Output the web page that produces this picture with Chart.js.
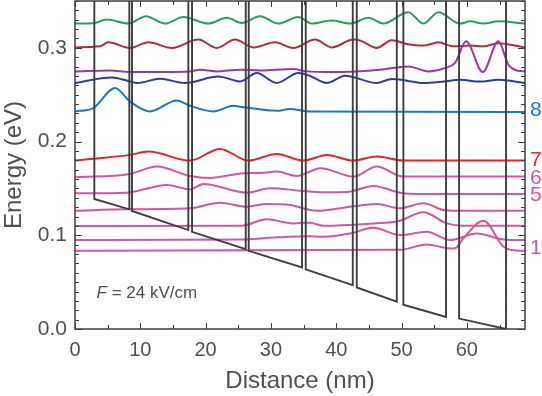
<!DOCTYPE html>
<html>
<head>
<meta charset="utf-8">
<script src="https://cdn.jsdelivr.net/npm/chart.js@4.4.0/dist/chart.umd.min.js"></script>
<style>
  html, body { margin: 0; padding: 0; background: #fff; }
  #chart { display: block; }
</style>
</head>
<body>
<canvas id="chart" width="542" height="396"></canvas>
<script>
// Conduction band: edges of each well (nm) and band bottom at those edges (eV)
const bandX = [2.96, 8.32, 8.73, 17.35, 17.92, 26.14, 26.6, 34.76, 35.33, 42.53, 43.14, 49.27, 50.28, 56.81, 58.81, 66.0];
const bandE = [0.1387, 0.1277, 0.1259, 0.1056, 0.1037, 0.0852, 0.0834, 0.0657, 0.0636, 0.0467, 0.0443, 0.0293, 0.0259, 0.0128, 0.0111, 0.0];
const barrierTop = 0.40; // barriers run off the top of the plot

// Wavefunctions |psi|^2 drawn on their energy levels, [nm, eV]
const state12 = [[0,.3259],[2.8,.3262],[4.85,.3302],[8.16,.3259],[10.87,.3337],[13.78,.3259],[16.58,.333],[20.41,.3259],[23.23,.332],[25.53,.3266],[28.33,.3337],[31.13,.3259],[34.2,.333],[36.25,.3259],[39.31,.3291],[42.11,.3259],[44.92,.332],[47.21,.3259],[51.04,.338],[53.34,.3259],[55.64,.338],[58.96,.3259],[60.49,.3283],[62.53,.3259],[64.82,.3283],[68.9,.3259]];
const state11 = [[0,.3005],[3.83,.3016],[5.1,.3059],[8.42,.2999],[11.23,.3059],[14.81,.2999],[18.88,.3088],[21.7,.2999],[24.5,.3088],[27.31,.3005],[30.63,.3059],[33.4,.2999],[36.75,.3088],[39.31,.3005],[42.62,.3088],[43.6,.308],[46.2,.2999],[48.5,.308],[50.8,.3042],[53.34,.3024],[55.64,.3059],[57.93,.3016],[60.5,.3024],[62.53,.3016],[64.82,.305],[68.9,.3005]];
const state10 = [[0,.2749],[5.36,.2759],[8.42,.2742],[17.61,.2749],[19.14,.2767],[21.7,.2749],[25.27,.2767],[28.33,.2759],[33.38,.2774],[35.5,.2749],[38.55,.2742],[43.14,.2749],[46.71,.2767],[51.04,.2802],[54.1,.2749],[56.66,.2785],[58.19,.2839],[59.88,.307],[62.43,.2742],[64.82,.307],[66.36,.282],[67.64,.2759],[68.9,.2749]];
const state9 = [[0,.2625],[5.62,.2685],[8.42,.2642],[9.5,.2625],[13.02,.2671],[16.85,.2625],[21.95,.2695],[25.27,.2642],[27.83,.2731],[30.89,.2625],[34.2,.2731],[36.0,.27],[38.55,.2625],[41.35,.2703],[46.2,.2625],[48.5,.2667],[50.8,.265],[53.34,.2625],[56.5,.2642],[58.96,.266],[62.0,.264],[64.82,.266],[68.9,.2625]];
const state8 = [[0,.2321],[2.8,.2357],[6.13,.2571],[8.42,.2428],[11.49,.2321],[15.57,.2439],[17.61,.2382],[21.18,.2321],[24.24,.2382],[25.5,.237],[30.89,.2328],[32.92,.2347],[35.99,.2321],[68.9,.2315]];
const state7 = [[0,.1797],[8.42,.1858],[11.23,.1893],[17.61,.1797],[22.21,.1922],[26.54,.1797],[30.89,.1868],[34.96,.1797],[38.55,.1858],[42.62,.1797],[46.2,.184],[50.28,.1797],[68.9,.1797]];
const state6 = [[0,.1619],[8.42,.1655],[12.51,.1733],[17.61,.1633],[20.67,.1612],[25.77,.1662],[28.33,.1665],[30.89,.168],[33.95,.1633],[37.6,.1716],[42.62,.1626],[46.2,.1733],[50.28,.1626],[68.9,.1626]];
const state5 = [[0,.1448],[7.92,.1455],[14.04,.1537],[17.61,.1491],[19.65,.1548],[26.29,.1455],[29.86,.1502],[34.46,.1476],[38.02,.146],[41.61,.1462],[45.7,.1526],[49.77,.1455],[52.33,.1441],[68.9,.1441]];
const state4 = [[0,.1262],[7.92,.1277],[17.61,.1288],[22.21,.1348],[26.29,.1305],[29.36,.1334],[32.92,.1323],[37.01,.1262],[42.11,.1305],[46.2,.1334],[49.77,.1288],[53.34,.1341],[56.4,.127],[58.5,.1262],[68.9,.1262]];
const state3 = [[0,.1098],[25.5,.1102],[29.36,.117],[33.4,.1127],[36.0,.1134],[38.02,.1102],[45.68,.1127],[49.5,.115],[53.34,.1245],[56.92,.1127],[59.46,.1102],[68.9,.1102]];
const state2 = [[0,.0949],[26.0,.0956],[30.89,.0978],[35.99,.0991],[38.0,.0985],[42.11,.102],[45.68,.108],[49.77,.1002],[53.86,.1037],[57.43,.0949],[61.52,.102],[65.59,.0956],[68.9,.0949]];
const state1 = [[0,.0834],[49.77,.0845],[53.86,.0903],[57.43,.086],[58.19,.0862],[59.46,.0967],[62.53,.1155],[65.59,.088],[66.87,.0842],[68.9,.0834]];

const states = [state1, state2, state3, state4, state5, state6, state7, state8, state9, state10, state11, state12];

// Level labels on the right side
const levelNames = ['8', '7', '6', '5', '1'];
const levelLabelE = [0.2339, 0.1804, 0.1612, 0.1425, 0.0863];

const xTicks = [0, 10, 20, 30, 40, 50, 60];
const yTicks = [0, 0.1, 0.2, 0.3];

const pink = '#d2579f';
const stateColors = [pink, pink, pink, pink, pink, pink, '#ec2229', '#1c79bf', '#2f3e94', '#9a3aa1', '#b42c3b', '#2e9c5d'];
const labelColors = ['#1c79bf', '#ec2229', pink, pink, pink];
const bandColor = '#3f3f3f';
const textColor = '#505050';
const fontFamily = '"Liberation Sans", Arial, Helvetica, sans-serif';

function bandPoints() {
  const pts = [{ x: 0, y: barrierTop }];
  for (let i = 0; i < bandX.length; i++) {
    if (i % 2 === 0) {
      pts.push({ x: bandX[i], y: barrierTop }, { x: bandX[i], y: bandE[i] });
    } else {
      pts.push({ x: bandX[i], y: bandE[i] }, { x: bandX[i], y: barrierTop });
    }
  }
  pts.push({ x: 68.9, y: barrierTop });
  return pts;
}

const frameAndLabels = {
  id: 'frameAndLabels',
  afterDatasetsDraw(chart) {
    const { ctx, chartArea: a, scales: { x, y } } = chart;
    ctx.save();
    ctx.strokeStyle = bandColor;
    ctx.lineWidth = 1.5;
    ctx.strokeRect(a.left, a.top, a.right - a.left, a.bottom - a.top);

    // inward ticks on all four sides
    ctx.lineWidth = 1;
    ctx.beginPath();
    for (let v = 0; v <= 65; v += 5) {
      const px = Math.round(x.getPixelForValue(v)) + 0.5;
      const len = v % 10 === 0 ? 6 : 4;
      ctx.moveTo(px, a.bottom); ctx.lineTo(px, a.bottom - len);
      ctx.moveTo(px, a.top); ctx.lineTo(px, a.top + len);
    }
    for (let i = 0; i <= 35; i++) {
      const py = Math.round(y.getPixelForValue(i / 100)) + 0.5;
      const len = i % 10 === 0 ? 7 : 4;
      ctx.moveTo(a.left, py); ctx.lineTo(a.left + len, py);
      ctx.moveTo(a.right, py); ctx.lineTo(a.right - len, py);
    }
    ctx.stroke();

    // level numbers
    ctx.font = '21px ' + fontFamily;
    ctx.textBaseline = 'middle';
    ctx.textAlign = 'left';
    levelNames.forEach((name, i) => {
      ctx.fillStyle = labelColors[i];
      ctx.fillText(name, a.right + 5, y.getPixelForValue(levelLabelE[i]));
    });

    // field annotation
    const tx = x.getPixelForValue(3.3);
    const ty = y.getPixelForValue(0.038);
    ctx.fillStyle = textColor;
    ctx.font = 'italic 17px ' + fontFamily;
    ctx.fillText('F', tx, ty);
    const fw = ctx.measureText('F').width;
    ctx.font = '17px ' + fontFamily;
    ctx.fillText(' = 24 kV/cm', tx + fw, ty);
    ctx.restore();
  }
};

const datasets = [{
  data: bandPoints(),
  borderColor: bandColor,
  borderWidth: 1.9,
  pointRadius: 0,
  tension: 0,
  fill: false
}];
states.forEach((s, i) => {
  datasets.push({
    data: s.map(p => ({ x: p[0], y: p[1] })),
    borderColor: stateColors[i],
    borderWidth: 2,
    pointRadius: 0,
    cubicInterpolationMode: 'monotone',
    fill: false
  });
});

new Chart(document.getElementById('chart'), {
  type: 'line',
  data: { datasets },
  options: {
    responsive: false,
    animation: false,
    devicePixelRatio: 1,
    layout: { padding: { top: 1, right: 17, left: 0, bottom: 0 } },
    plugins: { legend: { display: false }, tooltip: { enabled: false } },
    scales: {
      x: {
        type: 'linear',
        min: 0,
        max: 68.9,
        afterBuildTicks: s => { s.ticks = xTicks.map(v => ({ value: v })); },
        afterFit: s => { s.height = 67; s.paddingLeft = 0; s.paddingRight = 0; },
        grid: { display: false, drawTicks: false },
        border: { display: false },
        ticks: {
          padding: 9,
          color: textColor,
          font: { family: fontFamily, size: 20 },
          maxRotation: 0,
          callback: v => String(v)
        },
        title: {
          display: true,
          text: 'Distance (nm)',
          color: textColor,
          font: { family: fontFamily, size: 24 },
          padding: { top: 0, bottom: 0 }
        }
      },
      y: {
        type: 'linear',
        min: 0,
        max: 0.35,
        afterBuildTicks: s => { s.ticks = yTicks.map(v => ({ value: v })); },
        afterFit: s => { s.width = 75; s.paddingTop = 0; s.paddingBottom = 0; },
        grid: { display: false, drawTicks: false },
        border: { display: false },
        ticks: {
          padding: 8,
          color: textColor,
          font: { family: fontFamily, size: 21 },
          callback: v => v.toFixed(1)
        },
        title: {
          display: true,
          text: 'Energy (eV)',
          color: textColor,
          font: { family: fontFamily, size: 24 },
          padding: { top: 0, bottom: 0 }
        }
      }
    }
  },
  plugins: [frameAndLabels]
});
</script>
</body>
</html>
